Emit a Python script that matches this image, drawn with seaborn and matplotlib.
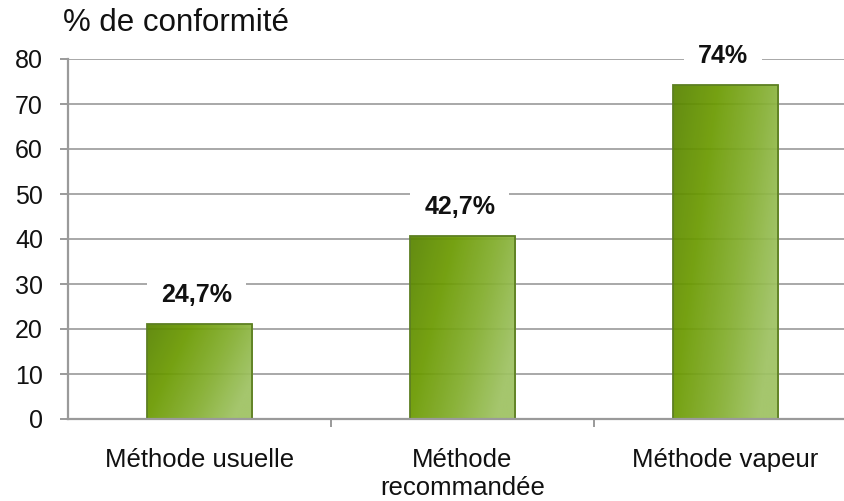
import numpy as np
import matplotlib
matplotlib.use("Agg")
import matplotlib.pyplot as plt
import seaborn as sns
from matplotlib.colors import LinearSegmentedColormap

categories = ["Méthode usuelle", "Méthode\nrecommandée", "Méthode vapeur"]
values = [21.1, 40.6, 74.2]
value_labels = ["24,7%", "42,7%", "74%"]
yticks = [0, 10, 20, 30, 40, 50, 60, 70, 80]
title = "% de conformité"

sns.set_style("white")
plt.rcParams["font.family"] = ["Liberation Sans", "DejaVu Sans"]

fig = plt.figure(figsize=(8.45, 5.01), dpi=100)
ax = fig.add_axes([68 / 845, 82 / 501, (857 - 68) / 845, 360 / 501])

grid_c = "#9a9a9a"
sns.barplot(x=categories, y=values, width=0.4, color="#6f9c00", ax=ax,
            zorder=2, saturation=1)

ax.set_xlim(-0.5, 2.5)
ax.set_ylim(0, 80)
ax.set_yticks(yticks)
ax.yaxis.grid(True, color=grid_c, linewidth=1.2, zorder=0)
ax.set_axisbelow(True)

cmap = LinearSegmentedColormap.from_list(
    "g", ["#588400", "#6b9a00", "#82ad2c", "#9ec262"])
for bar in list(ax.patches):
    x0, y0 = bar.get_x(), bar.get_y()
    w, h = bar.get_width(), bar.get_height()
    u = np.linspace(0, 1, 80)[None, :]
    v = np.linspace(0, 1, 120)[:, None]
    t = np.clip(0.8 * u + 0.35 * v, 0, 1)
    im = ax.imshow(t, cmap=cmap, vmin=0, vmax=1, extent=[x0, x0 + w, y0, y0 + h],
                   origin="upper", aspect="auto", zorder=2.5, alpha=0.93,
                   interpolation="bilinear")
    im.set_clip_path(bar)
    bar.set_facecolor("none")
    bar.set_edgecolor("#5d7f22")
    bar.set_linewidth(1.3)
    bar.set_zorder(3)

ax.set_xlim(-0.5, 2.5)
ax.set_ylim(0, 80)
ax.set_aspect("auto")

for bar, lab in zip(ax.patches, value_labels):
    ax.annotate(lab, (bar.get_x() + bar.get_width() / 2, bar.get_height()),
                xytext=(-2, 21), textcoords="offset points", ha="center",
                va="center", fontsize=18, fontweight="bold", color="#111111",
                annotation_clip=False, zorder=4,
                bbox=dict(boxstyle="square,pad=0.55", facecolor="white",
                          edgecolor="none"))

for s in ["top", "right"]:
    ax.spines[s].set_visible(False)
for s in ["left", "bottom"]:
    ax.spines[s].set_color(grid_c)
    ax.spines[s].set_linewidth(1.6)
    ax.spines[s].set_zorder(4)

ax.tick_params(axis="y", which="major", length=6, width=1.4, color=grid_c,
               pad=12, labelsize=18, labelcolor="#111111", left=True)
ax.tick_params(axis="x", which="major", length=0, pad=21, labelsize=18.5,
               labelcolor="#111111")
ax.set_xticks([0.5, 1.5], minor=True)
ax.tick_params(axis="x", which="minor", length=6, width=1.4, color=grid_c,
               direction="out", bottom=True)
ax.set_xlabel("")
ax.set_ylabel("")

fig.text(63 / 845, 1 - 8 / 501, title, ha="left", va="top", fontsize=22.5,
         color="#111111")

fig.savefig("out.png", dpi=100)
